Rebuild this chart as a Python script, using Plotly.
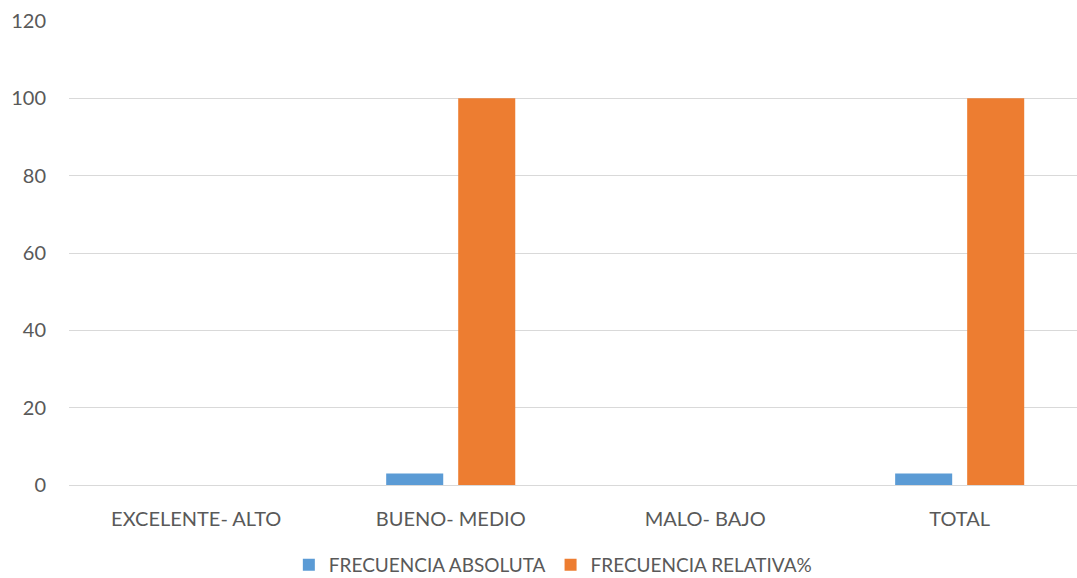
import plotly.graph_objects as go

categories = ["EXCELENTE- ALTO", "BUENO- MEDIO", "MALO- BAJO", "TOTAL"]
frec_absoluta = [0, 3, 0, 3]
frec_relativa = [0, 100, 0, 100]
y_ticks = [0, 20, 40, 60, 80, 100, 120]

font_color = "#595959"
fnt = "Lato, 'Open Sans', sans-serif"

fig = go.Figure()
fig.add_trace(go.Bar(name="FRECUENCIA ABSOLUTA", x=categories, y=frec_absoluta,
                     marker=dict(color="#5b9bd5", line=dict(width=0))))
fig.add_trace(go.Bar(name="FRECUENCIA RELATIVA%", x=categories, y=frec_relativa,
                     marker=dict(color="#ed7d31", line=dict(width=0))))

fig.update_layout(
    width=1077, height=578,
    margin=dict(l=69, r=0, t=21, b=93, autoexpand=False),
    paper_bgcolor="white", plot_bgcolor="white",
    barmode="group", bargap=0.434, bargroupgap=0.208,
    font=dict(family=fnt, size=20, color=font_color),
    showlegend=True,
    legend=dict(orientation="h", x=0.48, xanchor="center", y=-0.172, yanchor="middle",
                font=dict(size=19, color=font_color), itemwidth=30, traceorder="normal"),
)
fig.update_xaxes(range=[-0.5, 3.461], showgrid=False, showline=True, linecolor="#d9d9d9",
                 linewidth=1, ticks="", tickfont=dict(size=20, color=font_color),
                 ticklabelstandoff=16, automargin=False)
fig.update_yaxes(range=[0, 120], tickvals=y_ticks, showgrid=True, gridcolor="#d9d9d9",
                 gridwidth=1, zeroline=False, showline=False, ticks="",
                 tickfont=dict(size=20, color=font_color), ticklabelstandoff=22,
                 automargin=False)

fig.write_html("out.html")
